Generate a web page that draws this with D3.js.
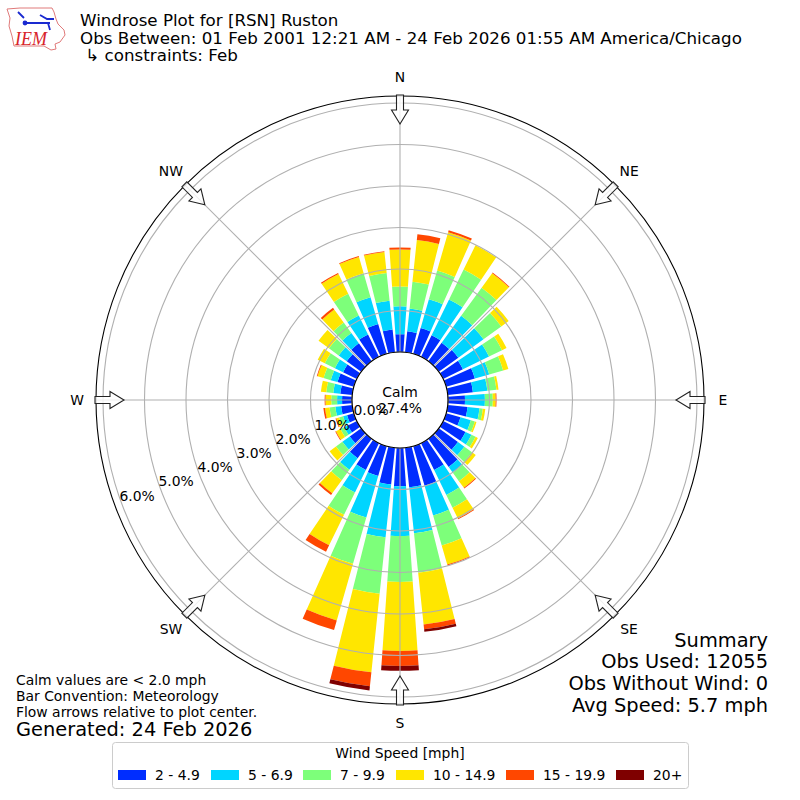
<!DOCTYPE html>
<html>
<head>
<meta charset="utf-8">
<script src="https://cdn.jsdelivr.net/npm/d3@7"></script>
<style>
body { margin: 0; background: #fff; }
text { font-family: "DejaVu Sans", sans-serif; }
</style>
</head>
<body>
<script>
// percent of obs per direction, clockwise from N every 10 degrees
var directions = d3.range(0, 360, 10);
var speedBins = ["2 - 4.9", "5 - 6.9", "7 - 9.9", "10 - 14.9", "15 - 19.9", "20+"];
var binColors = ["#002dff", "#00d5ff", "#7dff7a", "#ffe600", "#ff4700", "#7f0000"];
var bin2to5 = [0.43,0.51,0.65,0.58,0.55,0.58,0.53,0.72,0.61,0.41,0.48,0.36,0.60,0.57,0.84,0.72,0.99,0.96,0.92,0.89,0.75,0.72,0.58,0.34,0.24,0.17,0.27,0.24,0.29,0.41,0.37,0.43,0.53,0.60,0.75,0.55];
var bin5to7 = [0.67,0.55,0.72,0.96,0.80,0.75,0.70,0.36,0.35,0.48,0.29,0.26,0.16,0.19,0.17,0.67,0.75,1.11,1.20,1.28,1.04,0.60,0.34,0.22,0.10,0.10,0.14,0.12,0.17,0.17,0.22,0.24,0.31,0.51,0.67,0.70];
var bin7to10 = [0.48,0.65,0.72,0.80,0.84,0.53,0.35,0.35,0.22,0.19,0.08,0.10,0.11,0.23,0.25,0.34,0.75,0.96,1.11,1.37,1.16,0.60,0.31,0.19,0.10,0.10,0.14,0.14,0.17,0.18,0.27,0.29,0.31,0.58,0.60,0.67];
var bin10to15 = [0.89,1.01,0.96,0.65,0.43,0.22,0.12,0.13,0.05,0.07,0.06,0.04,0.06,0.11,0.20,0.29,0.48,1.25,1.66,1.90,1.42,0.82,0.39,0.19,0.12,0.07,0.11,0.14,0.13,0.15,0.19,0.31,0.39,0.53,0.41,0.51];
var bin15to20 = [0.05,0.14,0.05,0,0.02,0,0,0,0,0.02,0,0,0,0,0.02,0.02,0.02,0.12,0.36,0.34,0.24,0.17,0.05,0,0.02,0.02,0.04,0.02,0,0.02,0,0,0.05,0.03,0.02,0.02];
var bin20up = [0,0,0,0,0,0,0,0,0,0,0,0,0,0,0,0,0,0.06,0.12,0.10,0,0,0,0,0,0,0,0,0,0,0,0,0,0,0,0];
var binValues = [bin2to5, bin5to7, bin7to10, bin10to15, bin15to20, bin20up];
var radialTicks = [0, 1, 2, 3, 4, 5, 6];
var compass = ["N", "NE", "E", "SE", "S", "SW", "W", "NW"];

var titleLines = ["Windrose Plot for [RSN] Ruston",
    "Obs Between: 01 Feb 2001 12:21 AM - 24 Feb 2026 01:55 AM America/Chicago",
    " \u21b3 constraints: Feb"];
var summaryLines = ["Summary", "Obs Used: 12055", "Obs Without Wind: 0", "Avg Speed: 5.7 mph"];
var noteLines = ["Calm values are < 2.0 mph", "Bar Convention: Meteorology", "Flow arrows relative to plot center."];

var svg = d3.select("body").append("svg")
    .attr("width", 800)
    .attr("height", 800);

var cx = 400, cy = 400;
var rScale = d3.scaleLinear().domain([0, 6]).range([48, 297]);
var outerR = 304;
var angle = d3.scaleLinear().domain([0, 360]).range([0, 2 * Math.PI]);
var barWidth = 8;

var plot = svg.append("g").attr("transform", "translate(" + cx + "," + cy + ")");

plot.append("circle").attr("r", outerR).attr("fill", "#fff");

// bars
var arc = d3.arc();
directions.forEach(function (dir, i) {
    var total = 0;
    binValues.forEach(function (bin, b) {
        if (bin[i] <= 0) { return; }
        plot.append("path")
            .attr("d", arc({
                innerRadius: rScale(total),
                outerRadius: rScale(total + bin[i]),
                startAngle: angle(dir - barWidth / 2),
                endAngle: angle(dir + barWidth / 2)
            }))
            .attr("fill", binColors[b]);
        total += bin[i];
    });
});

// grid
radialTicks.forEach(function (t) {
    plot.append("circle")
        .attr("r", rScale(t))
        .attr("fill", "none")
        .attr("stroke", "#b0b0b0")
        .attr("stroke-width", 1.1);
});
compass.forEach(function (c, i) {
    var a = angle(i * 45);
    plot.append("line")
        .attr("x1", 0).attr("y1", 0)
        .attr("x2", outerR * Math.sin(a)).attr("y2", -outerR * Math.cos(a))
        .attr("stroke", "#b0b0b0")
        .attr("stroke-width", 1.1);
});

plot.append("circle").attr("r", outerR).attr("fill", "none").attr("stroke", "#000").attr("stroke-width", 1.1);

// hole in the middle
plot.append("circle").attr("r", 48).attr("fill", "#fff").attr("stroke", "#000").attr("stroke-width", 1.2);

// flow arrows
var arrowShape = [[-3.5, -305], [3.5, -305], [3.5, -290], [8.5, -290], [0, -276], [-8.5, -290], [-3.5, -290]];
compass.forEach(function (c, i) {
    plot.append("path")
        .attr("d", d3.line()(arrowShape) + "Z")
        .attr("transform", "rotate(" + (i * 45) + ")")
        .attr("fill", "#fff")
        .attr("fill-opacity", 0.8)
        .attr("stroke", "#222")
        .attr("stroke-width", 1.1);
});

// labels
compass.forEach(function (c, i) {
    var a = angle(i * 45);
    var r = i % 2 ? 324 : 323;
    plot.append("text")
        .attr("x", r * Math.sin(a))
        .attr("y", -r * Math.cos(a))
        .attr("text-anchor", "middle")
        .attr("dominant-baseline", "central")
        .attr("font-size", 13.9)
        .text(c);
});
radialTicks.forEach(function (t) {
    var a = angle(250);
    plot.append("text")
        .attr("x", rScale(t) * Math.sin(a) - 1.5)
        .attr("y", -rScale(t) * Math.cos(a) - 1)
        .attr("font-size", 13.9)
        .text(d3.format(".1f")(t) + "%");
});
plot.append("text").attr("y", -3).attr("text-anchor", "middle").attr("font-size", 13.9).text("Calm");
plot.append("text").attr("y", 13).attr("text-anchor", "middle").attr("font-size", 13.9).text("27.4%");

// title
titleLines.forEach(function (t, i) {
    svg.append("text")
        .attr("x", 80)
        .attr("y", 26 + i * 17.5)
        .attr("font-size", 16.7)
        .attr("xml:space", "preserve")
        .style("white-space", "pre")
        .text(t);
});

// summary
summaryLines.forEach(function (t, i) {
    svg.append("text")
        .attr("x", 768)
        .attr("y", 646.5 + i * 21.7)
        .attr("text-anchor", "end")
        .attr("font-size", 19.4)
        .text(t);
});

noteLines.forEach(function (t, i) {
    svg.append("text")
        .attr("x", 16)
        .attr("y", 685 + i * 16)
        .attr("font-size", 13.9)
        .text(t);
});
svg.append("text").attr("x", 16).attr("y", 736).attr("font-size", 19.4).text("Generated: 24 Feb 2026");

// legend
var legend = svg.append("g");
legend.append("rect")
    .attr("x", 112.5).attr("y", 742.5)
    .attr("width", 576).attr("height", 46)
    .attr("rx", 3)
    .attr("fill", "#fff")
    .attr("stroke", "#ccc");
legend.append("text")
    .attr("x", 400).attr("y", 758)
    .attr("text-anchor", "middle")
    .attr("font-size", 13.9)
    .text("Wind Speed [mph]");
var legendX = [118, 211, 303, 396, 506, 616];
speedBins.forEach(function (s, i) {
    legend.append("rect")
        .attr("x", legendX[i]).attr("y", 770)
        .attr("width", 28).attr("height", 10)
        .attr("fill", binColors[i]);
    legend.append("text")
        .attr("x", legendX[i] + 37).attr("y", 780)
        .attr("font-size", 13.9)
        .text(s);
});

// IEM logo, rough state outline
var logo = svg.append("g");
var iowaOutline = [[7,9],[20,8],[52,8],[54,12],[56,19],[58,24],[64,30],[65,35],[60,42],[55,44],[56,49],[51,50],[44,46],[14,46],[12,36],[9,26],[10,18]];
logo.append("path")
    .attr("d", d3.line()(iowaOutline) + "Z")
    .attr("fill", "none")
    .attr("stroke", "#e07a7a")
    .attr("stroke-width", 1);
logo.append("path")
    .attr("d", "M25 23 H50 M40 15 L47 19 H54 M48 23 L50 30 M18 12 L24 18")
    .attr("fill", "none")
    .attr("stroke", "#1a2ad0")
    .attr("stroke-width", 1.8);
logo.append("circle").attr("cx", 25).attr("cy", 23).attr("r", 2.4).attr("fill", "#1a2ad0");
logo.append("text")
    .attr("x", 15).attr("y", 45)
    .style("font-family", "'Liberation Serif', serif")
    .attr("font-style", "italic")
    .attr("font-size", 18)
    .attr("fill", "#d8232a")
    .text("IEM");
</script>
</body>
</html>
